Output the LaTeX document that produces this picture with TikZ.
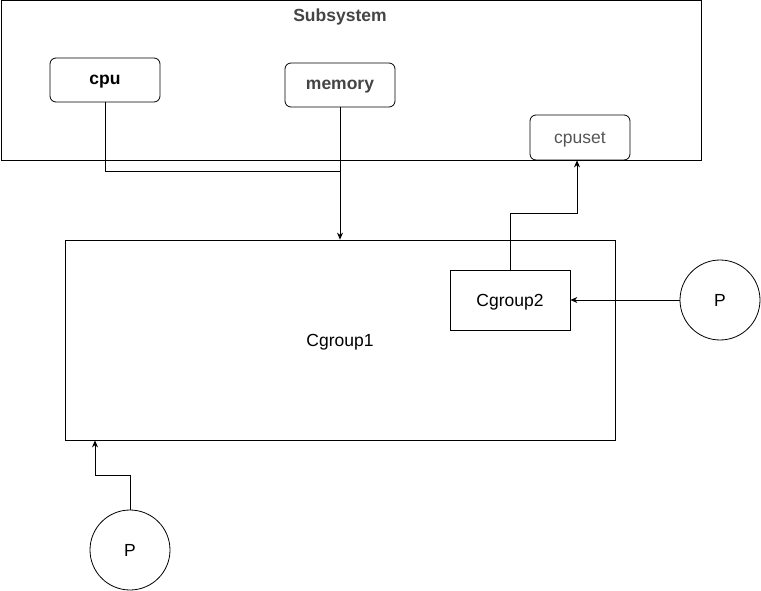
\documentclass[tikz,border=0pt]{standalone}
\usepackage{fontspec}
\setmainfont{Liberation Sans}
\usetikzlibrary{arrows.meta}
\definecolor{txtgray}{HTML}{444444}
\definecolor{lightgray}{HTML}{555555}
\begin{document}
\begin{tikzpicture}[x=1pt,y=-1pt,
  every node/.style={font=\fontsize{17.5}{20}\selectfont, text depth=0pt},
  box/.style={draw, line width=0.8pt, inner sep=0pt},
  rbox/.style={draw, line width=0.8pt, rounded corners=6pt, inner sep=0pt},
  conn/.style={draw, line width=0.8pt},
  arr/.style={conn, -{Stealth[length=7pt,width=6pt]}},
  proc/.style={draw, line width=0.8pt, circle, minimum size=80pt, inner sep=0pt}]
\useasboundingbox (0,0) rectangle (761,591);
% Subsystem
\node[box, minimum width=700pt, minimum height=160pt, anchor=north west] (sub) at (0.5,0.5) {};
\node[font=\fontsize{17.5}{20}\selectfont\bfseries, text=txtgray] (subt) at (340,15) {Subsystem};
\node[rbox, minimum width=110pt, minimum height=44pt] (cpu) at (105,80) {\textbf{cpu}};
\node[rbox, minimum width=110pt, minimum height=44pt, text=txtgray, font=\fontsize{17.5}{20}\selectfont\bfseries] (mem) at (340,85) {memory};
\node[rbox, minimum width=100pt, minimum height=45pt, text=lightgray] (cpuset) at (580,137.5) {cpuset};
% Cgroups
\node[box, minimum width=550pt, minimum height=200pt] (cg1) at (340,340) {Cgroup1};
\node[box, minimum width=120pt, minimum height=60pt] (cg2) at (510,300) {Cgroup2};
% Processes
\node[proc] (p1) at (720,300) {P};
\node[proc] (p2) at (130,550) {P};
% connectors
\coordinate (m2) at (340,171);
\draw[conn] (cpu.south) |- (m2);
\draw[arr] (mem.south) -- (mem.south |- cg1.north);
\coordinate (c2a) at (510,213);
\coordinate (c2b) at (577,213);
\draw[arr] (cg2.north) -- (c2a) -- (c2b) -- (c2b |- cpuset.south);
\draw[arr] (p1.west) -- (cg2.east);
\coordinate (pa) at (130,475);
\coordinate (pb) at (95,475);
\draw[arr] (p2.north) -- (pa) -- (pb) -- (pb |- cg1.south);
\end{tikzpicture}
\end{document}
